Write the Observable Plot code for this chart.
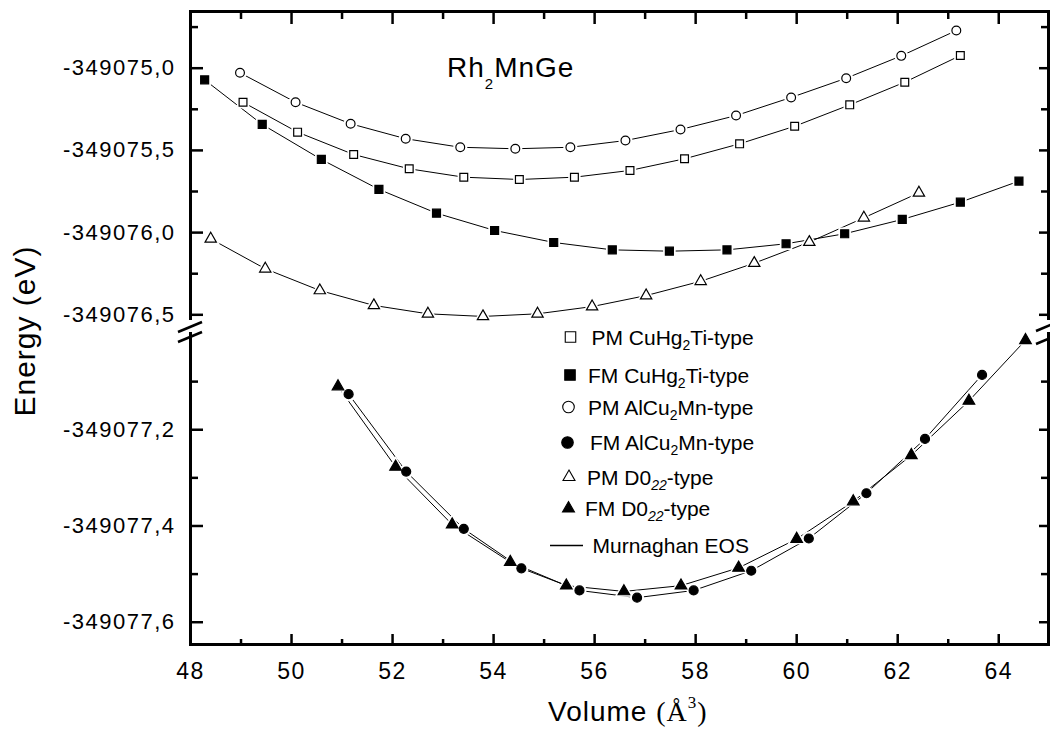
<!DOCTYPE html>
<html><head><meta charset="utf-8">
<script src="https://cdn.jsdelivr.net/npm/d3@7"></script>
<script src="https://cdn.jsdelivr.net/npm/@observablehq/plot@0.6"></script>
<style>
body{margin:0;background:#fff;}
#wrap{position:relative;width:1050px;height:729px;overflow:hidden;}
#wrap svg{position:absolute;left:0;}
</style></head><body><div id="wrap"></div>
<script>
// ---- data ----
const pmCuVol = [49.04, 50.12, 51.23, 52.33, 53.41, 54.51, 55.60, 56.70, 57.78, 58.87, 59.96, 61.05, 62.14, 63.24];
const pmCuE = [-349075.207, -349075.389, -349075.525, -349075.612, -349075.663, -349075.677, -349075.663, -349075.622, -349075.551, -349075.460, -349075.353, -349075.223, -349075.085, -349074.923];

const fmCuVol = [48.28, 49.42, 50.59, 51.73, 52.87, 54.02, 55.19, 56.35, 57.48, 58.62, 59.79, 60.95, 62.09, 63.24, 64.40];
const fmCuE = [-349075.071, -349075.342, -349075.555, -349075.737, -349075.882, -349075.987, -349076.060, -349076.105, -349076.113, -349076.105, -349076.068, -349076.007, -349075.920, -349075.815, -349075.687];

const pmAlVol = [48.98, 50.08, 51.17, 52.26, 53.34, 54.43, 55.52, 56.61, 57.70, 58.80, 59.89, 60.98, 62.07, 63.16];
const pmAlE = [-349075.028, -349075.207, -349075.338, -349075.429, -349075.481, -349075.490, -349075.481, -349075.440, -349075.373, -349075.288, -349075.178, -349075.061, -349074.925, -349074.771];

const pmD0Vol = [48.40, 49.48, 50.56, 51.63, 52.70, 53.79, 54.87, 55.95, 57.02, 58.10, 59.16, 60.25, 61.33, 62.42];
const pmD0E = [-349076.038, -349076.220, -349076.352, -349076.443, -349076.494, -349076.510, -349076.494, -349076.450, -349076.383, -349076.296, -349076.186, -349076.058, -349075.910, -349075.758];

const fmAlVol = [51.13, 52.27, 53.41, 54.55, 55.70, 56.84, 57.96, 59.10, 60.24, 61.38, 62.54, 63.67];
const fmAlE = [-349077.126, -349077.287, -349077.406, -349077.488, -349077.534, -349077.549, -349077.534, -349077.493, -349077.426, -349077.332, -349077.219, -349077.086];

const fmD0Vol = [50.92, 52.06, 53.18, 54.33, 55.44, 56.58, 57.71, 58.85, 60.00, 61.12, 62.27, 63.41, 64.53];
const fmD0E = [-349077.110, -349077.277, -349077.397, -349077.475, -349077.524, -349077.536, -349077.524, -349077.487, -349077.427, -349077.349, -349077.253, -349077.140, -349077.014];

const xDomain = [48, 64.985];
const yUpperDomain = [-349076.5225, -349074.6551];
const yLowerDomain = [-349077.6463, -349077.0];
const xMajorTicks = [48, 50, 52, 54, 56, 58, 60, 62, 64];
const xMinorTicks = [49, 51, 53, 55, 57, 59, 61, 63];
const yUpperMajor = [-349076.5, -349076.0, -349075.5, -349075.0];
const yUpperMinor = [-349076.25, -349075.75, -349075.25, -349074.75];
const yLowerMajor = [-349077.6, -349077.4, -349077.2];
const yLowerMinor = [-349077.5, -349077.3, -349077.1];

const titleMain = "Rh", titleSub = "2", titleRest = "MnGe";
const yTitle = "Energy (eV)";
const xTitleSans = "Volume ", xTitleSerif = "(Å", xTitleSup = "3", xTitleEnd = ")";

const legendEntries = [
  {symbol: "square", filled: false, parts: [["PM CuHg", 0], ["2", 1], ["Ti-type", 0]]},
  {symbol: "square", filled: true, parts: [["FM CuHg", 0], ["2", 1], ["Ti-type", 0]]},
  {symbol: "circle", filled: false, parts: [["PM AlCu", 0], ["2", 1], ["Mn-type", 0]]},
  {symbol: "circle", filled: true, parts: [["FM AlCu", 0], ["2", 1], ["Mn-type", 0]]},
  {symbol: "triangle", filled: false, parts: [["PM D0", 0], ["22", 2], ["-type", 0]]},
  {symbol: "triangle", filled: true, parts: [["FM D0", 0], ["22", 2], ["-type", 0]]},
  {symbol: "line", filled: false, parts: [["Murnaghan EOS", 0]]}
];

// ---- helpers ----
const series = (vols, es) => vols.map((v, i) => ({v, e: es[i]}));
const fmt = d => d3.format(".1f")(d).replace(".", ",").replace("\u2212", "-");
const FONT = "'Liberation Sans', Arial, sans-serif";

function lineMark(data) {
  return Plot.line(data, {x: "v", y: "e", stroke: "#000", strokeWidth: 1});
}
function haloMark(data, symbol, r) {
  return Plot.dot(data, {x: "v", y: "e", symbol, r: r + 2.6, fill: "#fff", stroke: "none"});
}
function dotMark(data, symbol, r, filled) {
  return Plot.dot(data, {x: "v", y: "e", symbol, r, fill: filled ? "#000" : "#fff", stroke: "#000", strokeWidth: 1.2});
}

const pmCu = series(pmCuVol, pmCuE);
const fmCu = series(fmCuVol, fmCuE);
const pmAl = series(pmAlVol, pmAlE);
const pmD0 = series(pmD0Vol, pmD0E);
const fmAl = series(fmAlVol, fmAlE);
const fmD0 = series(fmD0Vol, fmD0E);

const baseStyle = {fontFamily: FONT, fontSize: "22px", color: "#000", background: "transparent", overflow: "visible", letterSpacing: "1.5px"};

const upper = Plot.plot({
  width: 1050, height: 322,
  marginLeft: 190, marginRight: 2, marginTop: 11, marginBottom: 4,
  x: {domain: xDomain},
  y: {domain: yUpperDomain},
  style: baseStyle,
  marks: [
    Plot.frame({anchor: "left", stroke: "#000", strokeWidth: 3}),
    Plot.frame({anchor: "top", stroke: "#000", strokeWidth: 3}),
    Plot.frame({anchor: "right", stroke: "#000", strokeWidth: 3}),
    Plot.axisY(yUpperMajor, {anchor: "left", tickSize: -13, tickPadding: 28, tickFormat: fmt, strokeWidth: 2.5, label: null, fill: "#000"}),
    Plot.axisY(yUpperMinor, {anchor: "left", tickSize: -8, tickFormat: () => "", strokeWidth: 2.5, label: null}),
    Plot.axisY(yUpperMajor, {anchor: "right", tickSize: -10, tickFormat: () => "", strokeWidth: 2.5, label: null}),
    Plot.axisY(yUpperMinor, {anchor: "right", tickSize: -8, tickFormat: () => "", strokeWidth: 2.5, label: null}),
    Plot.axisX(xMajorTicks, {anchor: "top", tickSize: -12, tickFormat: () => "", strokeWidth: 2.5, label: null}),
    Plot.axisX(xMinorTicks, {anchor: "top", tickSize: -7, tickFormat: () => "", strokeWidth: 2.5, label: null}),
    lineMark(pmCu), lineMark(fmCu), lineMark(pmAl), lineMark(pmD0),
    haloMark(pmCu, "square", 4.4), haloMark(fmCu, "square", 4.5), haloMark(pmAl, "circle", 4.4), haloMark(pmD0, "triangle", 4.2),
    dotMark(pmCu, "square", 4.4, false), dotMark(fmCu, "square", 4.5, true), dotMark(pmAl, "circle", 4.4, false), dotMark(pmD0, "triangle", 4.2, false)
  ]
});
upper.style.top = "0px";

const lower = Plot.plot({
  width: 1050, height: 407,
  marginLeft: 190, marginRight: 2, marginTop: 11, marginBottom: 85,
  x: {domain: xDomain},
  y: {domain: yLowerDomain},
  style: baseStyle,
  marks: [
    Plot.frame({anchor: "left", stroke: "#000", strokeWidth: 3}),
    Plot.frame({anchor: "bottom", stroke: "#000", strokeWidth: 3}),
    Plot.frame({anchor: "right", stroke: "#000", strokeWidth: 3}),
    Plot.axisY(yLowerMajor, {anchor: "left", tickSize: -13, tickPadding: 28, tickFormat: fmt, strokeWidth: 2.5, label: null, fill: "#000"}),
    Plot.axisY(yLowerMinor, {anchor: "left", tickSize: -8, tickFormat: () => "", strokeWidth: 2.5, label: null}),
    Plot.axisY(yLowerMajor, {anchor: "right", tickSize: -10, tickFormat: () => "", strokeWidth: 2.5, label: null}),
    Plot.axisY(yLowerMinor, {anchor: "right", tickSize: -8, tickFormat: () => "", strokeWidth: 2.5, label: null}),
    Plot.axisX(xMajorTicks, {anchor: "bottom", tickSize: -10, tickPadding: 28, tickFormat: d => String(d), strokeWidth: 2.5, label: null, fontSize: 23, fill: "#000"}),
    Plot.axisX(xMinorTicks, {anchor: "bottom", tickSize: -5, tickFormat: () => "", strokeWidth: 2.5, label: null}),
    lineMark(fmAl), lineMark(fmD0),
    haloMark(fmAl, "circle", 4.5), haloMark(fmD0, "triangle", 4.3),
    dotMark(fmAl, "circle", 4.5, true), dotMark(fmD0, "triangle", 4.3, true)
  ]
});
lower.style.top = "322px";

const wrap = document.getElementById("wrap");
wrap.appendChild(upper);
wrap.appendChild(lower);

// ---- overlay: titles, legend, axis breaks ----
const ov = d3.create("svg").attr("width", 1050).attr("height", 729)
  .style("top", "0px").style("font-family", FONT).style("pointer-events", "none");

// axis break marks
[[190, 327], [190, 337], [1048, 326], [1048, 339]].forEach(([cx, cy]) => {
  ov.append("line").attr("x1", cx - 12).attr("y1", cy + 5).attr("x2", cx + 12).attr("y2", cy - 5)
    .attr("stroke", "#000").attr("stroke-width", 2.5);
});

// title
const t = ov.append("text").attr("x", 447).attr("y", 77).attr("font-size", 28).attr("letter-spacing", "1px").attr("fill", "#000");
t.append("tspan").text(titleMain);
t.append("tspan").attr("dy", 12).attr("font-size", 15).text(titleSub);
t.append("tspan").attr("dy", -12).text(titleRest);

// y title
ov.append("text").attr("transform", "translate(35,331) rotate(-90)").attr("text-anchor", "middle")
  .attr("font-size", 30).attr("letter-spacing", "1px").attr("fill", "#000").text(yTitle);

// x title
const xt = ov.append("text").attr("x", 548).attr("y", 721).attr("font-size", 28).attr("letter-spacing", "1px").attr("fill", "#000");
xt.append("tspan").text(xTitleSans);
xt.append("tspan").attr("font-family", "'Liberation Serif', 'Times New Roman', serif").text(xTitleSerif);
xt.append("tspan").attr("font-family", "'Liberation Serif', serif").attr("font-size", 17).attr("dy", -13).text(xTitleSup);
xt.append("tspan").attr("font-family", "'Liberation Serif', serif").attr("dy", 13).text(xTitleEnd);

// legend
const legSymX = [570.5, 570, 568.5, 567.5, 569, 568.5];
const legY = [337, 375, 407, 442.5, 477, 508.5, 545.5];
const legTextX = [591.5, 588, 588, 590, 587, 585, 592.5];
legendEntries.forEach((d, i) => {
  const cy = legY[i];
  if (d.symbol === "line") {
    ov.append("line").attr("x1", 550).attr("x2", 583).attr("y1", cy).attr("y2", cy).attr("stroke", "#000").attr("stroke-width", 1.3);
  } else {
    const sym = {square: d3.symbolSquare, circle: d3.symbolCircle, triangle: d3.symbolTriangle}[d.symbol];
    const size = d.symbol === "triangle" ? 62 : d.symbol === "square" ? 110 : 105;
    ov.append("path").attr("d", d3.symbol(sym, size)()).attr("transform", `translate(${legSymX[i]},${cy})`)
      .attr("fill", d.filled ? "#000" : "#fff").attr("stroke", "#000").attr("stroke-width", 1.1);
  }
  const tx = ov.append("text").attr("x", legTextX[i]).attr("y", cy + 7.5).attr("font-size", 21).attr("fill", "#000");
  d.parts.forEach(([s, sub]) => {
    if (sub) {
      tx.append("tspan").attr("dy", 5).attr("font-size", 14).attr("font-style", sub === 2 ? "italic" : null).text(s);
    } else {
      const sp = tx.append("tspan").text(s);
      if (tx.selectAll("tspan").size() > 1) sp.attr("dy", -5);
    }
  });
});

wrap.appendChild(ov.node());
</script>
</body></html>
